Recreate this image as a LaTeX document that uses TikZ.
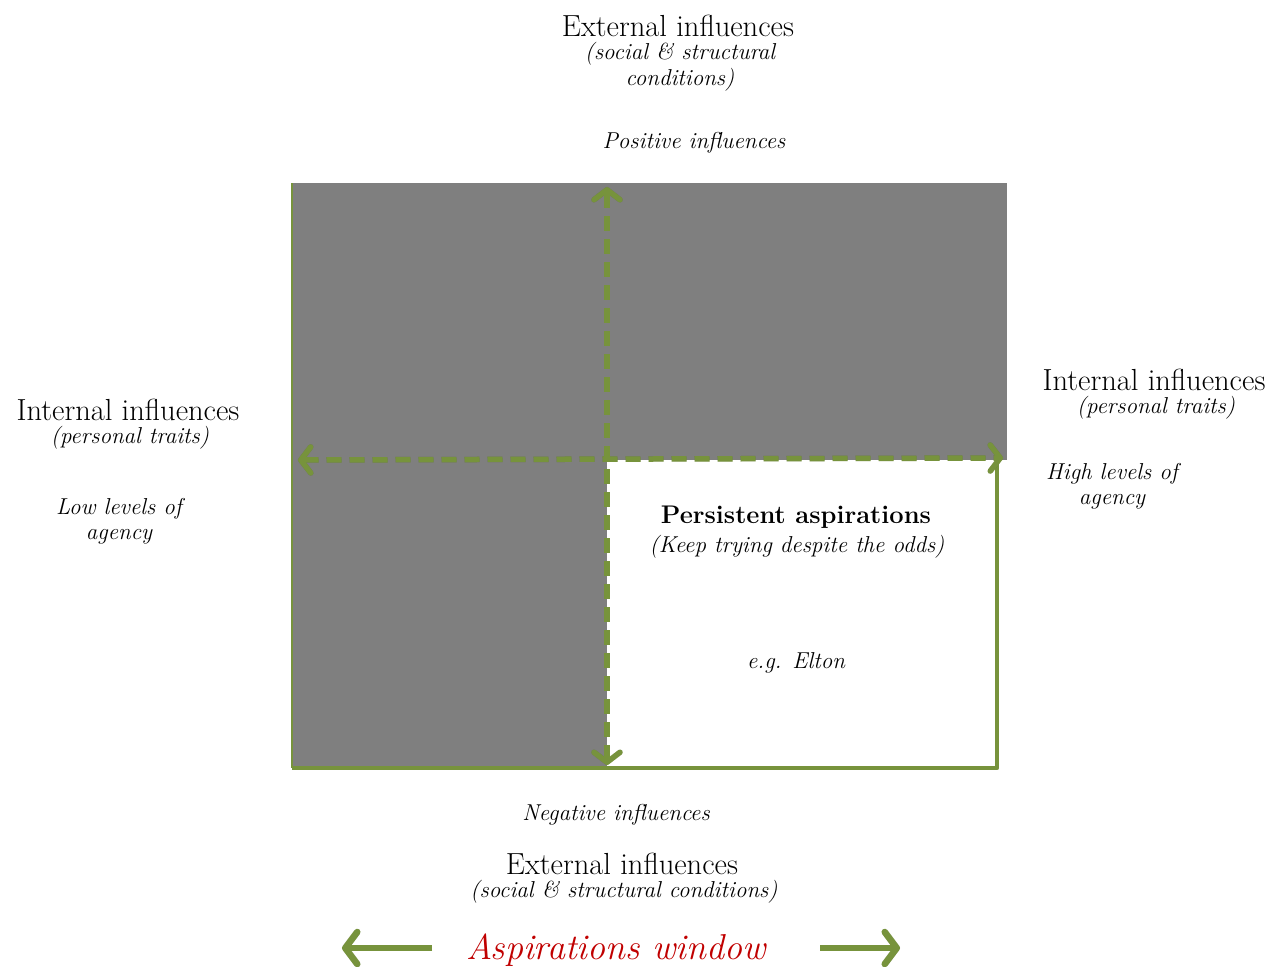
\documentclass[tikz,border=0pt]{standalone}
\usetikzlibrary{arrows.meta}
\definecolor{axisgreen}{HTML}{77933C}
\definecolor{quadgray}{HTML}{7F7F7F}
\definecolor{winred}{HTML}{C00000}
\begin{document}
\begin{tikzpicture}[x=1pt,y=-1pt,
  head/.style={font=\fontsize{30.5}{33}\selectfont, inner sep=0pt},
  sub/.style={font=\fontsize{23}{25.5}\selectfont\itshape, inner sep=0pt, align=center},
  barb/.tip={Straight Barb[length=10pt,width=26pt,round]},
  axisline/.style={draw=axisgreen, line width=5.5pt, dash pattern=on 15pt off 8pt, barb-barb},
  winarrow/.style={draw=axisgreen, line width=6.5pt, -{Straight Barb[length=12pt,width=32pt,round]}},
  shade/.style={draw=black, opacity=0.16, shift={(2pt,-3pt)}},
]
\useasboundingbox (0,0) rectangle (1286,967);

% quadrant fills
\fill[quadgray] (292,183) rectangle (1007,460);
\fill[quadgray] (292,460) rectangle (607,768);

% frame of the highlighted quadrant
\draw[axisgreen, line width=2.5pt] (292,183) -- (292,768);
\draw[axisgreen, line width=4.5pt, line join=round] (997,463) -- (997,768) -- (292,768);

% axes
\coordinate (ytop) at (607,187);
\coordinate (ybot) at (607,765);
\coordinate (xleft) at (298,460);
\coordinate (xright) at (1003,458);
\draw[axisline, shade] (ybot) -- (ytop);
\draw[axisline, shade] (xleft) -- (xright);
\draw[axisline] (ybot) -- (ytop);
\draw[axisline] (xleft) -- (xright);

% axis labels
\node[head] (exttop) at (678,26) {External influences};
\node[sub] (exttopsub) at (680,67) {(social \& structural\\conditions)};
\node[sub] (pos) at (694,143) {Positive influences};

\node[head] (intleft) at (128,410) {Internal influences};
\node[sub] (intleftsub) at (130,438) {(personal traits)};
\node[sub] (low) at (119,521) {Low levels of\\agency};

\node[head] (intright) at (1154,380) {Internal influences};
\node[sub] (intrightsub) at (1156,408) {(personal traits)};
\node[sub] (high) at (1112,486) {High levels of\\agency};

\node[sub] (neg) at (616,815) {Negative influences};
\node[head] (extbot) at (622,864) {External influences};
\node[sub] (extbotsub) at (624,892) {(social \& structural conditions)};

% quadrant content
\node[head, font=\fontsize{25.5}{30}\selectfont\bfseries] (persist) at (796,517) {Persistent aspirations};
\node[sub] (keep) at (797,547) {(Keep trying despite the odds)};
\node[sub] (elton) at (796,663) {e.g. Elton};

% aspirations window
\node[inner sep=0pt, text=winred, font=\fontsize{36}{40}\selectfont\itshape] (window) at (616,950) {Aspirations window};
\coordinate (wlstart) at (432,948);
\coordinate (wlend) at (342,948);
\coordinate (wrstart) at (820,948);
\coordinate (wrend) at (900,948);
\draw[winarrow, shade] (wlstart) -- (wlend);
\draw[winarrow, shade] (wrstart) -- (wrend);
\draw[winarrow] (wlstart) -- (wlend);
\draw[winarrow] (wrstart) -- (wrend);
\end{tikzpicture}
\end{document}
